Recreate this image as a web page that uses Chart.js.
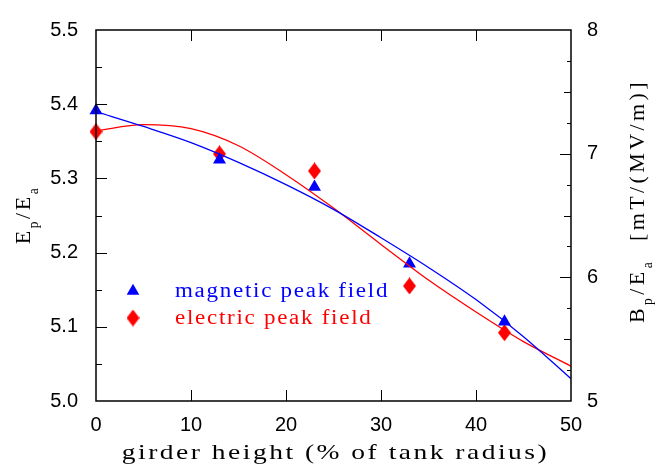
<!DOCTYPE html>
<html>
<head>
<meta charset="utf-8">
<script src="https://cdn.jsdelivr.net/npm/chart.js@4/dist/chart.umd.min.js"></script>
<style>
  html, body { margin: 0; padding: 0; background: #fff; }
  #wrap { width: 664px; height: 467px; position: relative; }
</style>
</head>
<body>
<div id="wrap"><canvas id="fieldChart"></canvas></div>
<script>
// measured points (girder height in % of tank radius)
const girderHeight = [0, 13, 23, 33, 43];
const magneticPeak = [7.35, 6.95, 6.73, 6.11, 5.64];      // Bp/Ea, right axis
const electricPeak = [5.363, 5.333, 5.310, 5.155, 5.092]; // Ep/Ea, left axis

// fitted curves
const fitHeight = [0, 5, 10, 15, 20, 25, 30, 35, 40, 45, 50];
const magneticFit = [7.34, 7.22, 7.09, 6.93, 6.75, 6.55, 6.32, 6.08, 5.82, 5.52, 5.18];
const electricFit = [5.364, 5.3725, 5.367, 5.344, 5.305, 5.260, 5.211, 5.163, 5.120, 5.080, 5.047];

const xTicks = [0, 10, 20, 30, 40, 50];
const leftTicks = [5.0, 5.1, 5.2, 5.3, 5.4, 5.5];
const rightTicks = [5, 6, 7, 8];

const BLUE = '#0000ff';
const RED = '#ff0000';
const SERIF = '"Liberation Serif", "DejaVu Serif", serif';
const SANS = '"Liberation Sans", Arial, sans-serif';

function pts(xs, ys) {
    return xs.map((x, i) => ({ x: x, y: ys[i] }));
}

// tall diamond marker
function makeDiamond(w, h, color) {
    const c = document.createElement('canvas');
    c.width = w; c.height = h;
    const g = c.getContext('2d');
    g.fillStyle = color;
    g.beginPath();
    g.moveTo(w / 2, 0);
    g.lineTo(w, h / 2);
    g.lineTo(w / 2, h);
    g.lineTo(0, h / 2);
    g.closePath();
    g.fill();
    return c;
}
const diamond = makeDiamond(13, 17, RED);

function drawTriangle(ctx, x, y, r, color) {
    ctx.fillStyle = color;
    ctx.beginPath();
    for (let k = 0; k < 3; k++) {
        const a = k * 2 * Math.PI / 3;
        const px = x + Math.sin(a) * r, py = y - Math.cos(a) * r;
        if (k === 0) ctx.moveTo(px, py); else ctx.lineTo(px, py);
    }
    ctx.closePath();
    ctx.fill();
}

// text with lowered subscripts: parts = [[text, isSub], ...]
function drawRich(ctx, parts, x, y, size) {
    let total = 0;
    parts.forEach(p => {
        ctx.font = (p[1] ? size * 0.62 : size) + 'px ' + SERIF;
        total += ctx.measureText(p[0]).width;
    });
    let cx = x - total / 2;
    parts.forEach(p => {
        ctx.font = (p[1] ? size * 0.62 : size) + 'px ' + SERIF;
        ctx.fillText(p[0], cx, y + (p[1] ? size * 0.38 : 0));
        cx += ctx.measureText(p[0]).width;
    });
}

// the original lettering is stretched sideways
function wideText(ctx, text, x, y, stretch) {
    ctx.save();
    ctx.translate(x, y);
    ctx.scale(stretch, 1);
    ctx.fillText(text, 0, 0);
    ctx.restore();
}

const framePlugin = {
    id: 'frame',
    afterDraw(chart) {
        const ctx = chart.ctx;
        const a = chart.chartArea;
        const sx = chart.scales.x, sy = chart.scales.y, sy2 = chart.scales.y2;
        ctx.save();
        ctx.strokeStyle = '#000';
        ctx.lineWidth = 1.5;
        ctx.strokeRect(a.left, a.top, a.right - a.left, a.bottom - a.top);

        ctx.lineWidth = 1;
        ctx.beginPath();
        // x ticks, bottom and top, pointing inward
        for (let v = 10; v < 50; v += 10) {
            const px = Math.round(sx.getPixelForValue(v)) + 0.5;
            ctx.moveTo(px, a.bottom); ctx.lineTo(px, a.bottom - 11);
            ctx.moveTo(px, a.top); ctx.lineTo(px, a.top + 11);
        }
        // left axis: majors every 0.1, minors every 0.05
        for (let i = 1; i < 10; i++) {
            const v = 5 + i * 0.05;
            const py = Math.round(sy.getPixelForValue(v)) + 0.5;
            ctx.moveTo(a.left, py); ctx.lineTo(a.left + (i % 2 === 0 ? 11 : 6), py);
        }
        // right axis: majors every 1, minors every 0.25
        for (let i = 1; i < 12; i++) {
            const v = 5 + i * 0.25;
            const py = Math.round(sy2.getPixelForValue(v)) + 0.5;
            ctx.moveTo(a.right, py); ctx.lineTo(a.right - (i % 4 === 0 ? 11 : (i % 2 === 0 ? 7 : 4)), py);
        }
        ctx.stroke();

        // axis titles
        ctx.fillStyle = '#000';
        ctx.textBaseline = 'alphabetic';
        ctx.font = '22px ' + SERIF;
        ctx.letterSpacing = '2px';
        const xTitle = 'girder height (% of tank radius)';
        const xw = ctx.measureText(xTitle).width * 1.25;
        wideText(ctx, xTitle, (a.left + a.right) / 2 - xw / 2 + 2, 459, 1.25);

        ctx.letterSpacing = '2.5px';
        ctx.save();
        ctx.translate(30, 215);
        ctx.rotate(-Math.PI / 2);
        drawRich(ctx, [['E', false], ['p', true], ['/', false], ['E', false], ['a', true]], 0, 0, 22);
        ctx.restore();

        ctx.letterSpacing = '3.4px';
        ctx.save();
        ctx.translate(644, 201);
        ctx.rotate(-Math.PI / 2);
        drawRich(ctx, [['B', false], ['p', true], ['/', false], ['E', false], ['a', true], ['  [mT/(MV/m)]', false]], 0, 0, 22);
        ctx.restore();

        // legend
        ctx.font = '20px ' + SERIF;
        ctx.letterSpacing = '1.5px';
        ctx.textBaseline = 'middle';
        drawTriangle(ctx, 133, 291, 7.3, BLUE);
        ctx.fillStyle = BLUE;
        wideText(ctx, 'magnetic peak field', 175, 292, 1.15);
        ctx.drawImage(diamond, 133 - 6.5, 318 - 8.5);
        ctx.fillStyle = RED;
        wideText(ctx, 'electric peak field', 175, 319, 1.15);
        ctx.restore();
    }
};

const ctx = document.getElementById('fieldChart').getContext('2d');
const fieldChart = new Chart(ctx, {
    type: 'scatter',
    data: {
        datasets: [
            {
                label: 'magnetic fit',
                data: pts(fitHeight, magneticFit),
                yAxisID: 'y2',
                showLine: true,
                borderColor: BLUE,
                borderWidth: 1.3,
                pointRadius: 0,
                cubicInterpolationMode: 'monotone'
            },
            {
                label: 'electric fit',
                data: pts(fitHeight, electricFit),
                yAxisID: 'y',
                showLine: true,
                borderColor: RED,
                borderWidth: 1.3,
                pointRadius: 0,
                cubicInterpolationMode: 'monotone'
            },
            {
                label: 'magnetic peak field',
                data: pts(girderHeight, magneticPeak),
                yAxisID: 'y2',
                clip: false,
                pointStyle: 'triangle',
                pointRadius: 7.5,
                backgroundColor: BLUE,
                borderColor: BLUE,
                borderWidth: 0
            },
            {
                label: 'electric peak field',
                data: pts(girderHeight, electricPeak),
                yAxisID: 'y',
                clip: false,
                pointStyle: diamond,
                pointRadius: 8,
                backgroundColor: RED,
                borderColor: RED
            }
        ]
    },
    options: {
        responsive: true,
        maintainAspectRatio: false,
        animation: false,
        events: [],
        layout: { padding: { top: 14, left: 0, right: 0, bottom: 0 } },
        plugins: {
            legend: { display: false },
            tooltip: { enabled: false }
        },
        scales: {
            x: {
                type: 'linear',
                min: 0,
                max: 50,
                afterBuildTicks: s => { s.ticks = xTicks.map(v => ({ value: v })); },
                afterFit: s => { s.height = 66; },
                grid: { display: false, drawTicks: false },
                border: { display: false },
                ticks: { color: '#000', padding: 12, maxRotation: 0, font: { family: SANS, size: 20 } }
            },
            y: {
                position: 'left',
                min: 5.0,
                max: 5.5,
                afterBuildTicks: s => { s.ticks = leftTicks.map(v => ({ value: v })); },
                afterFit: s => { s.width = 96; },
                grid: { display: false, drawTicks: false },
                border: { display: false },
                ticks: { color: '#000', padding: 18, font: { family: SANS, size: 20 }, callback: v => v.toFixed(1) }
            },
            y2: {
                position: 'right',
                min: 5,
                max: 8,
                afterBuildTicks: s => { s.ticks = rightTicks.map(v => ({ value: v })); },
                afterFit: s => { s.width = 93; },
                grid: { display: false, drawTicks: false },
                border: { display: false },
                ticks: { color: '#000', padding: 16, font: { family: SANS, size: 20 }, callback: v => String(v) }
            }
        }
    },
    plugins: [framePlugin]
});
</script>
</body>
</html>
